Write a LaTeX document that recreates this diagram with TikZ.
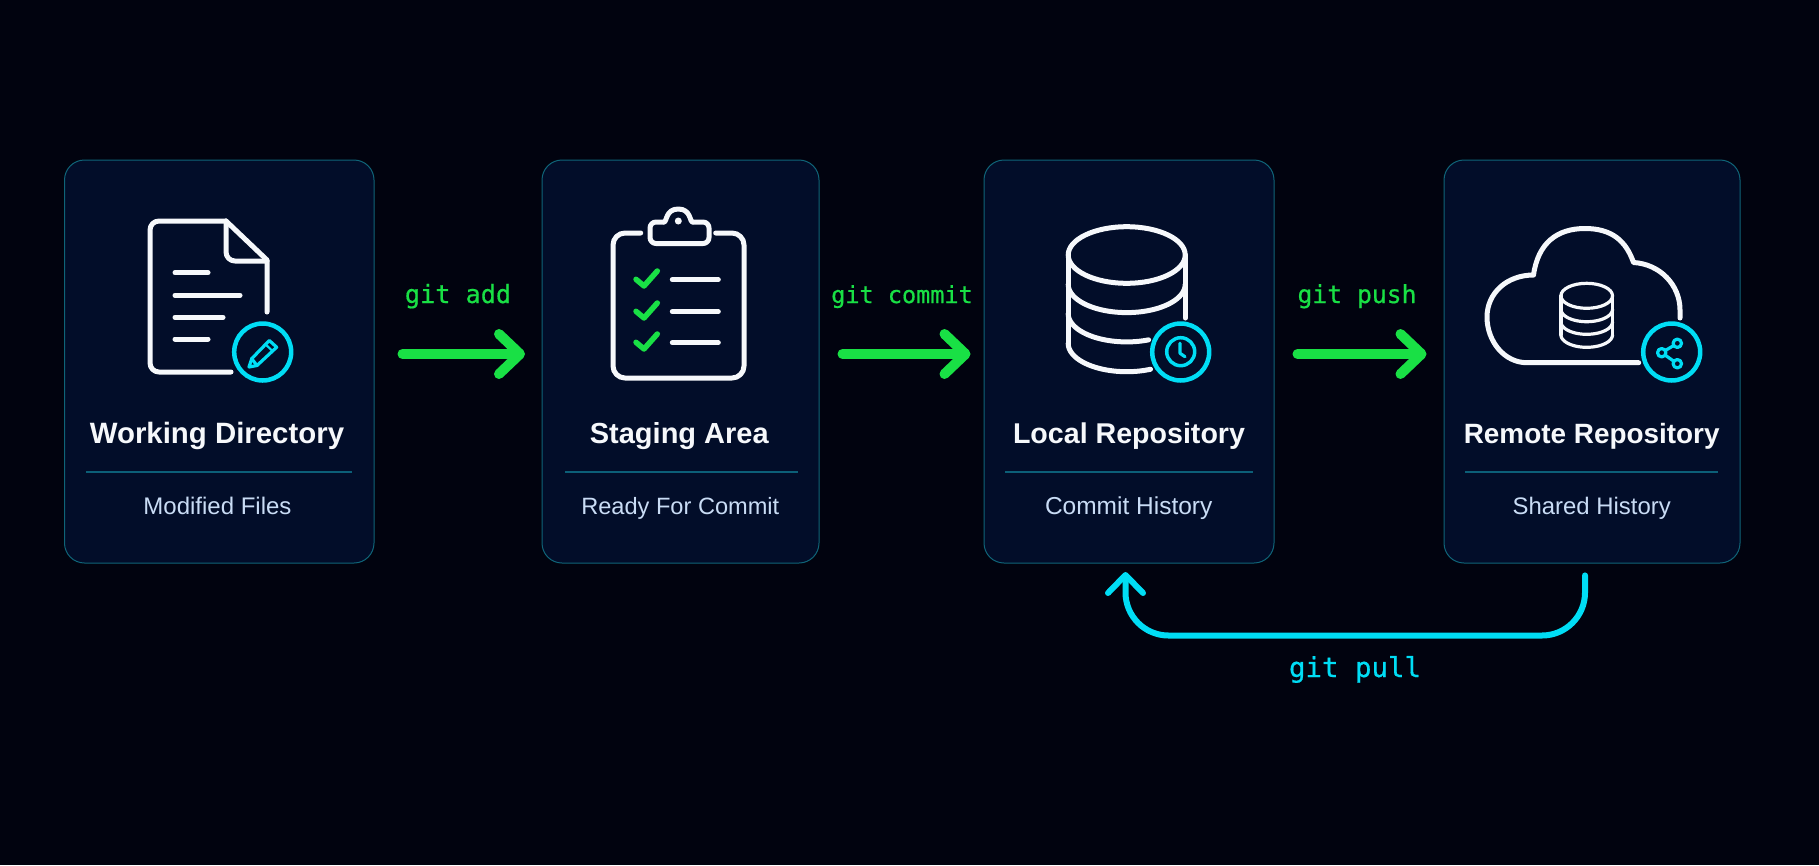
\documentclass[tikz,border=0pt]{standalone}
\usepackage{fontspec}
\setmainfont{Liberation Sans}
\newfontfamily\codefont[FakeBold=0.6]{DejaVu Sans Mono}
\usetikzlibrary{arrows.meta,calc}
\definecolor{bgcol}{HTML}{01030F}
\definecolor{cardcol}{HTML}{020D29}
\definecolor{edgecol}{HTML}{0F6478}
\definecolor{rulecol}{HTML}{0C5F78}
\definecolor{flowgreen}{HTML}{19E045}
\definecolor{flowcyan}{HTML}{00DDF5}
\definecolor{iconwhite}{HTML}{F6F8FB}
\definecolor{subcol}{HTML}{C9DCF5}
\tikzset{
  cardbox/.style={draw=edgecol,line width=1pt,fill=cardcol,rounded corners=20pt,inner sep=0pt,outer sep=0pt,
    minimum width=#1,minimum height=403pt},
  titletxt/.style={anchor=base,text=iconwhite,font=\fontsize{#1}{32}\selectfont\bfseries,inner sep=0pt},
  subtxt/.style={anchor=base,text=subcol,font=\fontsize{#1}{28}\selectfont,inner sep=0pt},
  codetxt/.style={anchor=base,font=\fontsize{#1}{30}\codefont,inner sep=0pt},
  rulerline/.style={draw=rulecol,line width=1.3pt},
  iconline/.style={draw=iconwhite,line width=5pt,line cap=round,line join=round},
  thinline/.style={draw=iconwhite,line width=3.2pt,line cap=round,line join=round},
  checkline/.style={draw=flowgreen,line width=5.5pt,line cap=round,line join=round},
  badgering/.style={draw=flowcyan,fill=cardcol,line width=4.5pt},
  badgeline/.style={draw=flowcyan,line width=3.2pt,line cap=round,line join=round},
  flowarrow/.style={draw=flowgreen,line width=10pt,line cap=round,
    -{Straight Barb[length=21pt,width=40pt,line width=10pt,round]}},
  pullarrow/.style={draw=flowcyan,line width=6pt,line cap=round,rounded corners=43pt,
    -{Straight Barb[length=18pt,width=35pt,line width=6pt,round]}},
}
\begin{document}
\begin{tikzpicture}[x=1pt,y=-1pt]
\useasboundingbox (0,0) rectangle (1819,865);
\fill[bgcol] (0,0) rectangle (1819,865);
% cards
\node[cardbox=309.5pt] (wd) at (219.25,361.5) {};
\node[cardbox=277pt] (sa) at (680.5,361.5) {};
\node[cardbox=290pt] (lr) at (1129,361.5) {};
\node[cardbox=296pt] (rr) at (1592,361.5) {};
% dividers
\draw[rulerline] (86,472) -- (352,472);
\draw[rulerline] (565,472) -- (798,472);
\draw[rulerline] (1005,472) -- (1253,472);
\draw[rulerline] (1465,472) -- (1718,472);
% texts
\node[titletxt=29.4] (t1) at (217,443.5) {Working Directory};
\node[subtxt=24] (s1) at (217.5,514) {Modified Files};
\node[titletxt=29] (t2) at (679.3,443.5) {Staging Area};
\node[subtxt=23.6] (s2) at (680.3,514) {Ready For Commit};
\node[titletxt=28.6] (t3) at (1129,443.5) {Local Repository};
\node[subtxt=24.5] (s3) at (1128.7,514) {Commit History};
\node[titletxt=27.9] (t4) at (1591.7,443.5) {Remote Repository};
\node[subtxt=23.9] (s4) at (1591.7,514) {Shared History};
% document icon
\draw[iconline,rounded corners=9pt] (231,372) -- (150,372) -- (150,221) -- (226,221);
\draw[iconline] (226,221) -- (267,260) -- (267,312);
\draw[iconline,rounded corners=9pt] (226,221) -- (226,261) -- (267,261);
\draw[iconline] (175,272.7) -- (208,272.7);
\draw[iconline] (175,295.3) -- (240,295.3);
\draw[iconline] (175,317.3) -- (223,317.3);
\draw[iconline] (175,339) -- (208,339);
\draw[badgering] (262.7,352) circle[radius=28.5];
\draw[badgeline] (249,367) -- (251.7,358.7) -- (269.3,340.5) -- (276.7,347.2) -- (257,365.5) -- cycle;
\draw[badgeline] (251.7,358.7) -- (257,365.5);
\draw[badgeline,line width=2.2pt] (265.7,344.5) -- (272.7,351.2);
% clipboard icon
\draw[iconline,rounded corners=12pt] (640.7,233) -- (613,233) -- (613,378) -- (744,378) -- (744,233) -- (715.7,233);
\draw[iconline,rounded corners=6pt] (664,222) -- (650,222) -- (650,243.5) -- (709,243.5) -- (709,222) -- (692.6,222);
\draw[iconline] (664,222) .. controls (667,222) and (665.5,209) .. (678.3,209) .. controls (691,209) and (689.6,222) .. (692.6,222);
\fill[iconwhite] (678.3,221) circle[radius=3.5];
\draw[checkline] (636,279.3) -- (644,286) -- (657.3,271);
\draw[checkline] (636,311.3) -- (644,318) -- (657.3,303);
\draw[checkline] (636,342.3) -- (644,349) -- (657.3,334);
\draw[iconline] (672.3,279.7) -- (718.3,279.7);
\draw[iconline] (672.3,311.7) -- (718.3,311.7);
\draw[iconline] (672.3,342.7) -- (718.3,342.7);
% database icon
\draw[iconline] (1126.7,255) ellipse[x radius=58.5,y radius=28.3];
\draw[iconline] plot[domain=180:0,samples=60] ({1126.7+58.5*cos(\x)},{284.3+28.3*sin(\x)});
\draw[iconline] plot[domain=180:68,samples=50] ({1126.7+58.5*cos(\x)},{313.6+28.3*sin(\x)});
\draw[iconline] plot[domain=180:66,samples=50] ({1126.7+58.5*cos(\x)},{343.4+28.3*sin(\x)});
\draw[iconline] (1068.2,255) -- (1068.2,343.4);
\draw[iconline] (1185.2,255) -- (1185.2,318);
\draw[badgering] (1180.7,352) circle[radius=28.5];
\draw[badgeline,line width=3.5pt] (1180.7,351.7) circle[radius=14];
\draw[badgeline] (1180,343.3) -- (1180,353.3) -- (1185,356.7);
% cloud icon
\draw[iconline] (1638.7,362.7) -- (1527,362.7) .. controls (1504,362.7) and (1487,341) .. (1487,317)
  .. controls (1487,293) and (1507,275) .. (1533.5,275)
  .. controls (1538,243) and (1557,228.5) .. (1585,228.5)
  .. controls (1612,228.5) and (1626,241) .. (1633.5,262.5)
  .. controls (1660,264) and (1680,285) .. (1680,310) -- (1680,318);
\draw[thinline] (1586.7,295.8) ellipse[x radius=25.8,y radius=12.5];
\draw[thinline] plot[domain=180:0,samples=40] ({1586.7+25.8*cos(\x)},{309.2+12.5*sin(\x)});
\draw[thinline] plot[domain=180:0,samples=40] ({1586.7+25.8*cos(\x)},{321.8+12.5*sin(\x)});
\draw[thinline] plot[domain=180:0,samples=40] ({1586.7+25.8*cos(\x)},{334.8+12.5*sin(\x)});
\draw[thinline] (1560.9,295.8) -- (1560.9,334.8);
\draw[thinline] (1612.5,295.8) -- (1612.5,334.8);
\draw[badgering] (1671.7,352) circle[radius=28.5];
\draw[badgeline] (1677.3,343.3) -- (1661.7,352.7) -- (1677.3,363.7);
\draw[badgeline,fill=cardcol] (1677.3,343.3) circle[radius=4.2];
\draw[badgeline,fill=cardcol] (1661.7,352.7) circle[radius=4.2];
\draw[badgeline,fill=cardcol] (1677.3,363.7) circle[radius=4.2];
% connectors
\draw[flowarrow,shorten <=28.5pt,shorten >=17pt] ([yshift=7.5pt]wd.east) -- ([yshift=7.5pt]sa.west);
\draw[flowarrow,shorten <=23.5pt,shorten >=13.5pt] ([yshift=7.5pt]sa.east) -- ([yshift=7.5pt]lr.west);
\draw[flowarrow,shorten <=23.5pt,shorten >=17.5pt] ([yshift=7.5pt]lr.east) -- ([yshift=7.5pt]rr.west);
\draw[pullarrow,shorten <=12.4pt,shorten >=9pt] ([xshift=-7pt]rr.south) -- ++(0,72.5) -| ([xshift=-3.5pt]lr.south);
% connector labels
\node[codetxt=25.2] (l1) [text=flowgreen] at (458,303) {git add};
\node[codetxt=23.5] (l2) [text=flowgreen] at (902,303) {git commit};
\node[codetxt=24.7] (l3) [text=flowgreen] at (1357,303) {git push};
\node[codetxt=27.4] (l4) [text=flowcyan] at (1355,677) {git pull};
\end{tikzpicture}
\end{document}
